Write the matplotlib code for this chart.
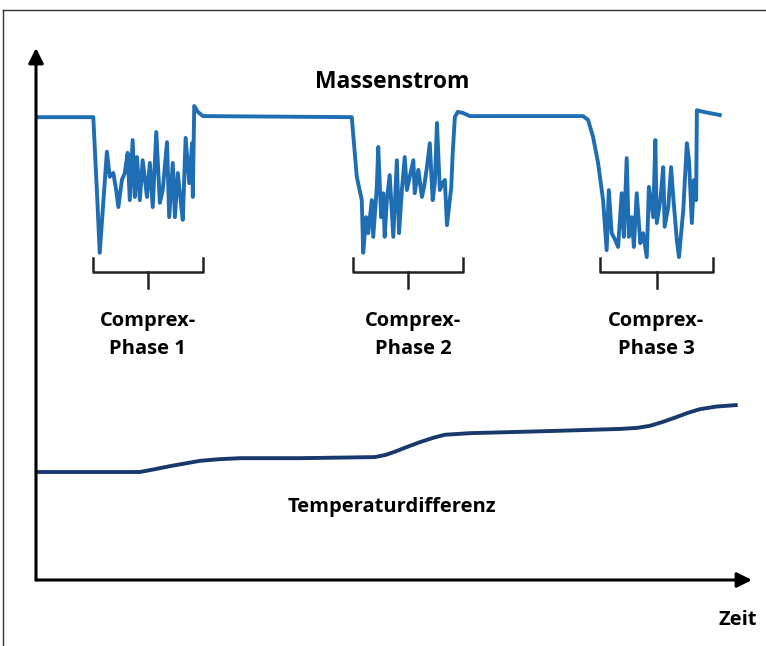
import matplotlib.pyplot as plt
from matplotlib.lines import Line2D

# Massenstrom (relative units, time axis 0..100)
t_mass = [0, 8.0, 8.5, 8.9, 9.9, 10.3, 10.8, 11.2, 11.5, 12.0, 12.4, 12.8, 13.1, 13.5, 13.8,
          14.1, 14.5, 14.9, 15.5, 15.9, 16.3, 16.8, 17.3, 17.7, 18.3, 18.6, 19.1, 19.4, 19.8,
          20.3, 20.5, 20.9, 21.4, 21.8, 21.9, 22.1, 22.6, 23.3,
          44.1, 44.8, 45.5, 45.7, 46.1, 46.4, 46.9, 47.1, 47.6, 47.8, 48.2, 48.5, 48.7, 49.0,
          49.4, 49.9, 50.4, 50.7, 51.1, 51.5, 51.8, 52.2, 52.7, 52.9, 53.4, 53.9, 54.2, 54.6,
          55.0, 55.4, 55.7, 56.0, 56.4, 56.8, 57.1, 57.4, 58.0, 58.2, 58.5, 58.9, 59.6, 60.6,
          76.4, 77.1, 77.8, 78.5, 79.2, 79.7, 80.0, 80.4, 80.9, 81.3, 81.8, 82.1, 82.5, 82.8,
          83.2, 83.5, 83.9, 84.4, 84.8, 85.3, 85.6, 86.2, 86.5, 86.7, 87.2, 87.6, 87.8, 88.3,
          88.7, 89.0, 89.5, 89.8, 90.4, 90.9, 91.2, 91.6, 91.9, 92.2, 92.3, 93.2, 95.5]
massenstrom = [87.0, 87.0, 73.3, 61.5, 80.5, 75.8, 76.5, 73.3, 70.1, 75.2, 76.5, 80.3, 71.4, 82.7, 72.0,
               79.5, 71.4, 78.9, 72.0, 78.4, 70.1, 84.2, 70.9, 73.3, 82.3, 68.2, 78.4, 68.2, 76.5,
               70.1, 67.7, 83.1, 74.6, 82.1, 72.0, 89.1, 88.0, 87.2,
               87.0, 75.8, 71.4, 61.5, 68.2, 65.2, 71.4, 64.5, 73.9, 81.4, 68.2, 72.7, 64.5, 71.4,
               76.1, 64.5, 78.9, 65.2, 73.3, 79.5, 73.3, 75.8, 78.9, 72.7, 77.1, 72.0, 73.9, 77.6,
               82.1, 71.4, 74.6, 85.9, 73.3, 74.6, 75.2, 66.7, 73.9, 80.3, 87.0, 88.0, 87.8, 87.2,
               87.2, 86.5, 83.3, 78.4, 71.4, 62.0, 73.3, 65.2, 63.9, 62.6, 72.7, 64.5, 79.3, 64.5,
               68.2, 62.6, 72.7, 63.3, 65.2, 60.7, 73.9, 68.2, 82.7, 67.1, 71.4, 77.6, 66.4, 70.1,
               77.6, 72.0, 63.9, 60.7, 69.5, 82.1, 78.9, 67.1, 75.2, 71.4, 88.3, 88.0, 87.4]

# Temperaturdifferenz
t_temp = [0, 14.5, 16.5, 18.7, 20.8, 22.9, 25.5, 28.5, 36.9, 47.3, 48.8, 50.1, 51.8, 53.6,
          55.4, 57.1, 60.6, 71.8, 81.6, 84.0, 85.8, 87.5, 89.2, 91.0, 92.7, 95.0, 98.0]
temp_diff = [20.3, 20.3, 20.8, 21.4, 21.9, 22.4, 22.7, 22.9, 22.9, 23.1, 23.5, 24.1, 25.0, 25.9,
             26.7, 27.3, 27.6, 28.0, 28.4, 28.6, 29.0, 29.7, 30.5, 31.4, 32.1, 32.6, 32.9]

phases = ["Comprex-\nPhase 1", "Comprex-\nPhase 2", "Comprex-\nPhase 3"]
phase_start = [8.0, 44.3, 78.8]
phase_end = [23.3, 59.6, 94.6]
label_x = [15.6, 52.7, 86.6]

font = "Open Sans"
fig = plt.figure(figsize=(7.66, 6.46), dpi=100)
ax = fig.add_axes([36 / 766, 66 / 646, 716 / 766, 532 / 646])
ax.set_xlim(0, 100)
ax.set_ylim(0, 100)
ax.axis("off")

ax.plot(t_mass, massenstrom, color="#1f6db3", lw=2.8, solid_joinstyle="round")
ax.plot(t_temp, temp_diff, color="#17396b", lw=2.8, solid_capstyle="butt")

# axis arrows
arrow = dict(arrowstyle="-|>,head_length=0.9,head_width=0.45", color="black", lw=2.2,
             shrinkA=0, shrinkB=0)
ax.annotate("", xy=(1, 0), xytext=(0, 0), xycoords="axes fraction", arrowprops=arrow)
ax.annotate("", xy=(0, 1), xytext=(0, 0), xycoords="axes fraction", arrowprops=arrow)

# brackets under the phases
for s, e, c, lab in zip(phase_start, phase_end, label_x, phases):
    m = (s + e) / 2
    ax.plot([s, s, e, e], [60.5, 57.9, 57.9, 60.5], color="#222222", lw=1.8,
            solid_joinstyle="round")
    ax.plot([m, m], [57.9, 54.9], color="#222222", lw=1.8)
    ax.text(c, 46.1, lab, ha="center", va="center", fontsize=14.5, family=font,
            weight="bold", linespacing=1.55)

ax.text(49.7, 93.6, "Massenstrom", ha="center", va="center", fontsize=16.5,
        family=font, weight="bold")
ax.text(49.7, 13.7, "Temperaturdifferenz", ha="center", va="center", fontsize=14.5,
        family=font, weight="bold")
fig.text(738 / 766, 1 - 620 / 646, "Zeit", ha="center", va="center", fontsize=14.5,
         family=font, weight="bold")

# frame (top and left only)
fig.add_artist(Line2D([3 / 766, 1], [1 - 10 / 646, 1 - 10 / 646], color="#333333", lw=1.0))
fig.add_artist(Line2D([3 / 766, 3 / 766], [0, 1 - 10 / 646], color="#333333", lw=1.0))

fig.savefig("out.png", dpi=100)
